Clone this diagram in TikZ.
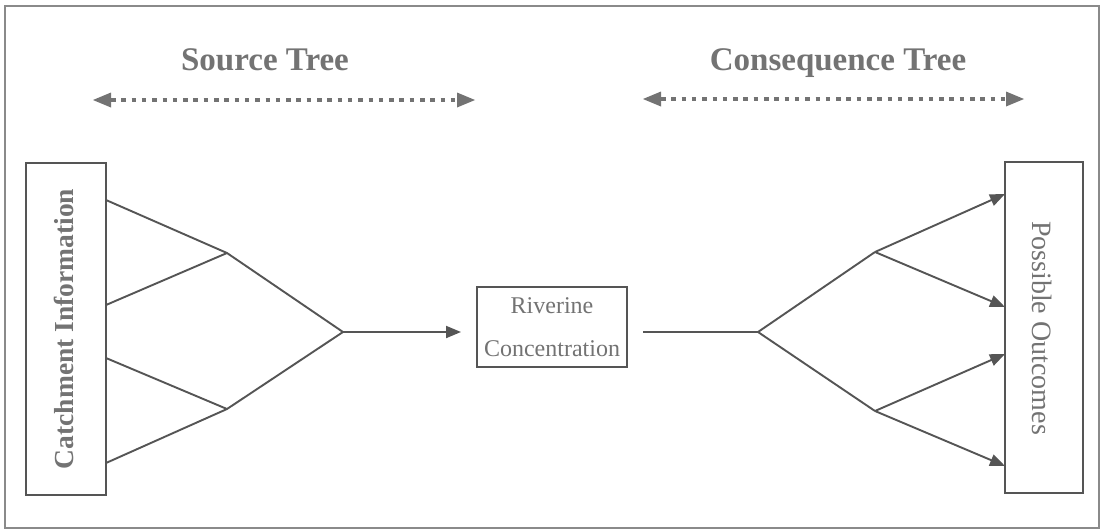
\documentclass[tikz,border=0pt]{standalone}
\usepackage{fontspec}
\setmainfont{Liberation Serif}
\usetikzlibrary{arrows.meta}
\definecolor{ink}{HTML}{555555}
\definecolor{titlegray}{HTML}{737373}
\definecolor{framegray}{HTML}{8A8A8A}
\begin{document}
\begin{tikzpicture}[x=1pt,y=-1pt,
  treeline/.style={draw=ink,line width=1.9pt},
  treearrow/.style={treeline,-{Triangle[length=15pt,width=12pt]}},
  spanarrow/.style={draw=titlegray,line width=4.5pt,dash pattern=on 4.5pt off 5.8pt,
     {Triangle[length=18pt,width=15pt,line width=0pt]}-{Triangle[length=18pt,width=15pt,line width=0pt]},shorten <=1pt, shorten >=1pt},
  boxnode/.style={draw=ink,line width=1.9pt,inner sep=0pt,text=titlegray},
  titlenode/.style={text=titlegray,font=\fontsize{33}{36}\selectfont\bfseries,inner sep=0pt}]
\useasboundingbox (0,0) rectangle (1103,531);
\fill[white] (0,0) rectangle (1103,531);
\draw[framegray,line width=1.8pt] (5,6) rectangle (1099,528);

% titles
\node[titlenode,anchor=base] (srct) at (265,70) {Source Tree};
\node[titlenode,anchor=base] (cont) at (838,70) {Consequence Tree};

% span arrows
\coordinate (sa1) at (92,100);
\coordinate (sa2) at (476,100);
\coordinate (ca1) at (642,99);
\coordinate (ca2) at (1025,99);
\draw[spanarrow] (sa1) -- (sa2);
\draw[spanarrow] (ca1) -- (ca2);

% boxes
\node[boxnode,minimum width=80pt,minimum height=332pt] (catch) at (66,329) {};
\node[text=titlegray,rotate=90,font=\fontsize{27.5}{30}\selectfont\bfseries,inner sep=0pt] (catchtxt) at (64,329) {Catchment Information};
\node[boxnode,minimum width=150pt,minimum height=80pt,align=center,
  font=\fontsize{24}{43}\selectfont] (river) at (552,327) {Riverine\\Concentration};
\node[boxnode,minimum width=78pt,minimum height=331pt] (outc) at (1044,327.5) {};
\node[text=titlegray,rotate=-90,font=\fontsize{28}{30}\selectfont,inner sep=0pt] (outctxt) at (1042,328) {Possible Outcomes};

% source tree
\coordinate (l1) at (106,200);
\coordinate (l2) at (106,305);
\coordinate (l3) at (106,358);
\coordinate (l4) at (106,463);
\coordinate (j1) at (227,253);
\coordinate (j2) at (227,409);
\coordinate (apex) at (343,332);
\coordinate (rin) at (461,332);
\draw[treeline,line join=miter] (l1) -- (j1) -- (apex) -- (j2) -- (l4);
\draw[treeline] (l2) -- (j1);
\draw[treeline] (l3) -- (j2);
\draw[treearrow] (apex) -- (rin);

% consequence tree
\coordinate (rout) at (643,332);
\coordinate (capex) at (758,332);
\coordinate (k1) at (875,252);
\coordinate (k2) at (875,411);
\coordinate (o1) at (1005,194);
\coordinate (o2) at (1005,307);
\coordinate (o3) at (1005,354);
\coordinate (o4) at (1005,466);
\draw[treeline,line join=miter] (rout) -- (capex) -- (k1);
\draw[treeline] (capex) -- (k2);
\draw[treearrow] (k1) -- (o1);
\draw[treearrow] (k1) -- (o2);
\draw[treearrow] (k2) -- (o3);
\draw[treearrow] (k2) -- (o4);
\end{tikzpicture}
\end{document}
